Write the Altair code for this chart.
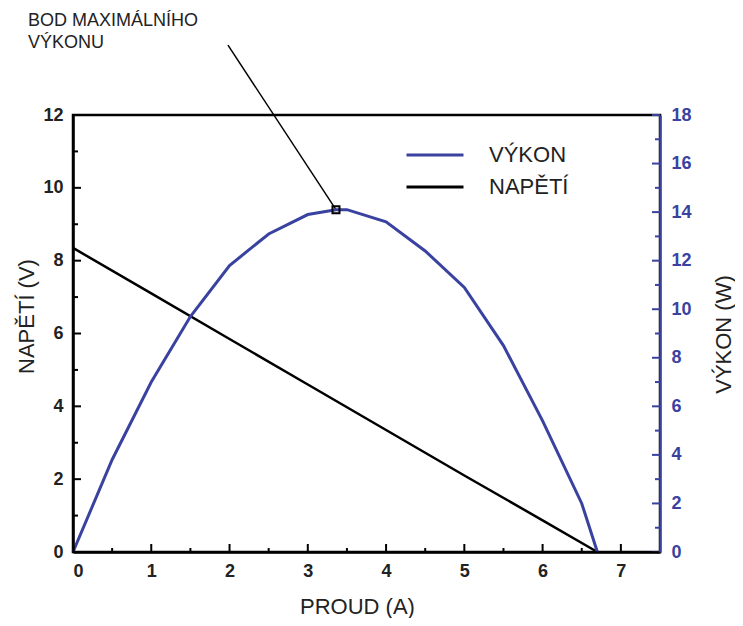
import altair as alt
import pandas as pd

# ---- data ----
current_p = [0, 0.5, 1, 1.5, 2, 2.5, 3, 3.36, 3.5, 4, 4.5, 5, 5.5, 6, 6.5, 6.7]
power = [0, 3.8, 7.0, 9.7, 11.8, 13.1, 13.9, 14.1, 14.1, 13.6, 12.4, 10.9, 8.5, 5.4, 2.0, 0]
current_v = [0, 1, 2, 3, 4, 5, 6, 6.7]
voltage = [8.35, 7.1, 5.85, 4.6, 3.35, 2.1, 0.87, 0]
series_names = ["VÝKON", "NAPĚTÍ"]

mpp_current = [3.36]
mpp_power = [14.1]

x_major = [0, 1, 2, 3, 4, 5, 6, 7]
x_minor = [0.5, 1.5, 2.5, 3.5, 4.5, 5.5, 6.5]
left_major = [0, 2, 4, 6, 8, 10, 12]
left_minor = [1, 3, 5, 7, 9, 11]
right_major = [0, 2, 4, 6, 8, 10, 12, 14, 16, 18]
right_minor = [1, 3, 5, 7, 9, 11, 13, 15, 17]

annot_lines = ["BOD MAXIMÁLNÍHO", "VÝKONU"]

# ---- styling ----
W, H = 587, 437
BLUE = "#3a42a0"
FONT = "Liberation Sans"

vdf = pd.DataFrame({"I": current_v, "U": voltage, "serie": series_names[1]})
pdf = pd.DataFrame({"I": current_p, "P": power, "serie": series_names[0]})

xscale = alt.Scale(domain=[0, 7.5], nice=False, zero=False)
lscale = alt.Scale(domain=[0, 12], nice=False)
rscale = alt.Scale(domain=[0, 18], nice=False)

color = alt.Color(
    "serie:N",
    scale=alt.Scale(domain=series_names, range=[BLUE, "black"]),
    legend=alt.Legend(
        orient="none", legendX=349, legendY=27, title=None,
        symbolType="M-2.5,0H2.5", symbolSize=520, symbolStrokeWidth=3,
        labelFont=FONT, labelFontSize=22, labelColor="#222",
        labelOffset=41, rowPadding=8, padding=0,
    ),
)

xaxis = alt.Axis(
    values=x_major, ticks=False, grid=False, labelPadding=10,
    domainColor="black", domainWidth=2.5,
    labelFont=FONT, labelFontSize=18, labelFontWeight="bold", labelColor="#222",
    title="PROUD (A)", titleFont=FONT, titleFontSize=22, titleFontWeight="normal",
    titleColor="#222", titleX=284, titleY=61, titleBaseline="alphabetic",
    titleAlign="center", zindex=2,
)
laxis = alt.Axis(
    orient="left", values=left_major, ticks=False, grid=False, labelPadding=10,
    domainColor="black", domainWidth=2.5,
    labelFont=FONT, labelFontSize=18, labelFontWeight="bold", labelColor="#222",
    title="NAPĚTÍ (V)", titleFont=FONT, titleFontSize=22, titleFontWeight="normal",
    titleColor="#222", titleAngle=270, titleX=-40, titleY=201,
    titleBaseline="alphabetic", titleAlign="center", zindex=2,
)
raxis = alt.Axis(
    orient="right", values=right_major, ticks=False, grid=False, labelPadding=11,
    domainColor=BLUE, domainWidth=2.5,
    labelFont=FONT, labelFontSize=18, labelFontWeight="bold", labelColor=BLUE,
    title="VÝKON (W)", titleFont=FONT, titleFontSize=22, titleFontWeight="normal",
    titleColor="#222", titleAngle=270, titleX=70, titleY=219,
    titleBaseline="alphabetic", titleAlign="center", zindex=2,
)

X = alt.X("I:Q", scale=xscale, axis=xaxis)
YL = alt.Y("U:Q", scale=lscale, axis=laxis)
YR = alt.Y("P:Q", scale=rscale, axis=raxis)

volt_line = alt.Chart(vdf).mark_line(strokeWidth=2.5).encode(x=X, y=YL, color=color)


def hticks(vals, yenc, field, x0, x1, col):
    return alt.Chart(pd.DataFrame({field: vals})).mark_rule(color=col, strokeWidth=2).encode(
        y=yenc, x=alt.value(x0), x2=alt.value(x1),
    )


def vticks(vals, length):
    return alt.Chart(pd.DataFrame({"I": vals})).mark_rule(color="black", strokeWidth=2).encode(
        x=X, y=alt.value(H), y2=alt.value(H - length),
    )


annot_df = pd.DataFrame({"I": mpp_current, "U": [9.4], "I2": [1.98], "U2": [13.92]})
annot_rule = alt.Chart(annot_df).mark_rule(color="black", strokeWidth=1.5, clip=False).encode(
    x=X, y=YL, x2="I2:Q", y2="U2:Q",
)
annot_text = alt.Chart(pd.DataFrame({"I": [-0.574], "U": [14.44]})).mark_text(
    text=annot_lines, align="left", baseline="alphabetic", font=FONT,
    fontSize=18, lineHeight=22, color="#222", clip=False,
).encode(x=X, y=YL)

left = alt.layer(
    volt_line,
    hticks(left_major, YL, "U", 0, 8, "black"),
    hticks(left_minor, YL, "U", 0, 5, "black"),
    vticks(x_major, 8),
    vticks(x_minor, 4),
    annot_rule,
    annot_text,
)

power_line = alt.Chart(pdf).mark_line(strokeWidth=3).encode(x=X, y=YR, color=color)
marker = alt.Chart(pd.DataFrame({"I": mpp_current, "P": mpp_power})).mark_point(
    shape="square", size=49, filled=False, color="black", strokeWidth=2, opacity=1
).encode(x=X, y=YR)
right = alt.layer(
    power_line,
    marker,
    hticks(right_major, YR, "P", W, W - 8, BLUE),
    hticks(right_minor, YR, "P", W, W - 5, BLUE),
)

chart = (
    alt.layer(left, right)
    .resolve_scale(y="independent")
    .properties(
        width=W, height=H,
        autosize=alt.AutoSizeParams(type="none"),
        padding={"left": 65, "top": 107, "right": 75, "bottom": 66},
        background="white",
    )
    .configure(font=FONT, view=alt.ViewConfig(stroke="black", strokeWidth=2.5))
)

chart.save("out.html", embed_options={"renderer": "svg", "actions": False})
